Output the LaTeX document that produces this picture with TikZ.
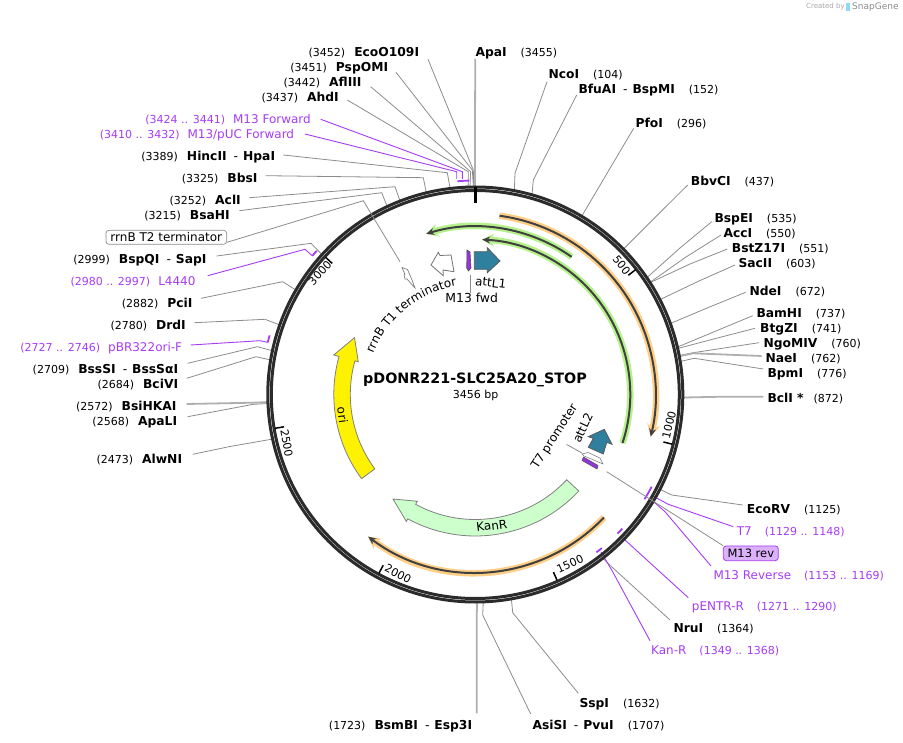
\documentclass[tikz,border=0pt]{standalone}
\usepackage{fontspec}
\setmainfont{DejaVu Sans}
\usetikzlibrary{arrows.meta,decorations.text}
\definecolor{primerpurple}{HTML}{A63CF5}
\definecolor{ringdark}{HTML}{2B2B2B}
\definecolor{leadergray}{HTML}{8C8C8C}
\definecolor{attteal}{HTML}{2F7F9E}
\definecolor{kanfill}{HTML}{CCFFCC}
\definecolor{orangeglow}{HTML}{FFCF87}
\definecolor{greenglow}{HTML}{B5F28C}
\newcommand{\sitel}[2]{{\fontsize{11}{13}\selectfont(#2)}\hspace{9pt}{\fontsize{12.3}{14}\selectfont\textbf{#1}}}
\newcommand{\siter}[2]{{\fontsize{12.3}{14}\selectfont\textbf{#1}}\hspace{14pt}{\fontsize{11}{13}\selectfont(#2)}}
\newcommand{\primerl}[2]{{\fontsize{11}{13}\selectfont(#2)}\hspace{8pt}{\fontsize{12}{14}\selectfont #1}}
\newcommand{\primerr}[2]{{\fontsize{12}{14}\selectfont #1}\hspace{13pt}{\fontsize{11}{13}\selectfont(#2)}}
\newcommand{\pairdash}{\hspace{7pt}\textmd{-}\hspace{5pt}}

\begin{document}
\begin{tikzpicture}[x=1pt, y=-1pt, >=Stealth,
  sitetext/.style={inner sep=0pt, text height=9.5pt, text depth=0.7pt, text=black},
  primertext/.style={sitetext, text=primerpurple},
  leader/.style={draw=leadergray, line width=0.8pt},
  leaderheavy/.style={draw=leadergray!70, line width=1.8pt},
  primerline/.style={draw=primerpurple, line width=0.9pt},
  primermark/.style={draw=primerpurple, line width=1.8pt},
  ringline/.style={draw=ringdark, line width=3pt},
  ticklabel/.style={inner sep=0pt, font=\fontsize{11}{13}\selectfont},
  featuretext/.style={inner sep=0pt, font=\fontsize{12}{14}\selectfont},
  genearc/.style={draw=black!50, line width=0.8pt},
  whitefeature/.style={draw=black!55, fill=white, line width=0.8pt},
  glowband/.style={line width=6.5pt},
  darkband/.style={draw=black!75, line width=2pt}]
  \useasboundingbox (0,0) rectangle (903,743);
  \coordinate (CENTER) at (475.3,394.5);

  % cut sites on the left
  \foreach \nm/\x/\y/\txt/\dx/\dy/\ex/\ey/\bp/\ls in {
    EcoO/419.3/51.7/{\sitel{EcoO109I}{3452}}/8.7/7.6/473.3/170/3452/leader,
    PspO/388.3/67/{\sitel{PspOMI}{3451}}/7.7/5.3/472.3/170/3451/leader,
    AflI/361.7/82/{\sitel{AflIII}{3442}}/9/4.7/470.7/171.7/3442/leader,
    AhdI/339/97/{\sitel{AhdI}{3437}}/8.3/3/468.3/171.7/3437/leader,
    Hinc/275.3/156/{\sitel{HincII\pairdash HpaI}{3389}}/8/-1/447.3/172.7/3389/leader,
    BbsI/257.7/178/{\sitel{BbsI}{3325}}/8/-2.3/423.3/177.7/3325/leader,
    AclI/241/200/{\sitel{AclI}{3252}}/8.3/-2.3/395/186.7/3252/leader,
    BsaH/230/215/{\sitel{BsaHI}{3215}}/9.3/-4.3/381.7/192.7/3215/leader,
    BspQ/206.7/259/{\sitel{BspQI\pairdash SapI}{2999}}/10/-3/311/243.3/2999/leader,
    PciI/192.7/303/{\sitel{PciI}{2882}}/8.3/-4.7/282.7/281.7/2882/leader,
    DrdI/186/325/{\sitel{DrdI}{2780}}/8.3/-2.3/265/319.3/2780/leader,
    BssS/178.3/369/{\sitel{BssSI\pairdash BssS\char"03B1I}{2709}}/9.4/-5.7/257.3/346.7/2709/leader,
    BciV/178.3/384/{\sitel{BciVI}{2684}}/8.4/-5.7/256/356.7/2684/leader,
    BsiH/176.7/406/{\sitel{BsiHKAI}{2572}}/10/-2/253.3/402.7/2572/leaderheavy,
    ApaL/177.3/421/{\sitel{ApaLI}{2568}}/10.4/-4.3/253.3/404.3/2568/leader,
    AlwN/182.3/459/{\sitel{AlwNI}{2473}}/10.4/-4.7/230/446.5/2473/leader,
    BsmB/472.3/725/{\sitel{BsmBI\pairdash Esp3I}{1723}}/4.4/-11.7/476.7/615/1723/leaderheavy}{
    \pgfmathsetmacro{\a}{\bp/9.6-90}
    \node[sitetext, anchor=east] (\nm) at (\x,\y) {\txt};
    \coordinate (\nm ring) at ([shift={(CENTER)}]\a:208);
    \draw[\ls] ([shift={(\dx,\dy)}]\nm.east) -- (\ex,\ey) -- (\nm ring);
  }

  % cut sites on the right
  \foreach \nm/\x/\y/\txt/\dx/\dy/\ex/\ey/\bp/\ls in {
    ApaI/475.3/52/{\siter{ApaI}{3455}}/0/7/475/120/3455/leaderheavy,
    NcoI/548.3/74/{\siter{NcoI}{104}}/-1.3/7.7/515/173.3/104/leader,
    BfuA/578.3/88.7/{\siter{BfuAI\pairdash BspMI}{152}}/-1.6/6.3/533.3/180/152/leader,
    PfoI/635.3/122.7/{\siter{PfoI}{296}}/-1.6/5.6/608/171.7/296/leader,
    BbvC/690.7/181/{\siter{BbvCI}{437}}/-3/4/656/216.5/437/leader,
    BspE/714.3/217.7/{\siter{BspEI}{535}}/-2.6/4/680/248/535/leader,
    AccI/723.3/233/{\siter{AccI}{550}}/-2.3/2/686/257/550/leader,
    BstZ/731.7/248/{\siter{BstZ17I}{551}}/-4.4/1/690/264/551/leader,
    SacI/738.3/263/{\siter{SacII}{603}}/-3.3/2/699/281/603/leader,
    NdeI/749.3/291/{\siter{NdeI}{672}}/-3.6/1.3/709.5/307/672/leader,
    BamH/756.3/313/{\siter{BamHI}{737}}/-3.6/2.7/716/331/737/leader,
    BtgZ/760/328/{\siter{BtgZI}{741}}/-5/0.3/717.5/338/741/leader,
    NgoM/763.3/343/{\siter{NgoMIV}{760}}/-4.3/-0.3/693.3/352.7/760/leader,
    NaeI/765.3/358/{\siter{NaeI}{762}}/-3.6/-2/693.3/353.3/762/leaderheavy,
    BpmI/767.3/373/{\siter{BpmI}{776}}/-4/-4/694.3/358.3/776/leader,
    BclI/767.3/398.5/{\textbf{\fontsize{12.3}{14}\selectfont BclI *}\hspace{10pt}{\fontsize{11}{13}\selectfont(872)}}/-4/-1.8/723/396.7/872/leaderheavy,
    EcoR/746.7/509/{\siter{EcoRV}{1125}}/-4/-4/671.7/495/1125/leader,
    NruI/673.3/628/{\siter{NruI}{1364}}/-3.3/-8/613.3/568.3/1364/leader,
    SspI/579.3/703/{\siter{SspI}{1632}}/-1/-9.7/512.7/612.7/1632/leader,
    AsiS/532.3/725/{\siter{AsiSI\pairdash PvuI}{1707}}/-1.6/-11/482.7/615/1707/leader}{
    \pgfmathsetmacro{\a}{\bp/9.6-90}
    \node[sitetext, anchor=west] (\nm) at (\x,\y) {\txt};
    \coordinate (\nm ring) at ([shift={(CENTER)}]\a:208);
    \draw[\ls] ([shift={(\dx,\dy)}]\nm.west) -- (\ex,\ey) -- (\nm ring);
  }

  % primers
  \foreach \nm/\x/\y/\txt/\dx/\dy/\ex/\ey/\fx/\fy in {
    MFwd/311/119/{\primerl{M13 Forward}{3424 .. 3441}}/9.7/0.3/462.3/171.7/462.3/179,
    MPuc/294.3/134/{\primerl{M13/pUC Forward}{3410 .. 3432}}/10.7/0/456.7/171.7/456.7/179,
    LFou/195.7/281/{\primerl{L4440}{2980 .. 2997}}/12/-5.3/305/249.3/312.5/256,
    PBRo/182.3/347/{\primerl{pBR322ori-F}{2727 .. 2746}}/8.4/-2/260/340.7/267.7/342.3}{
    \node[primertext, anchor=east] (\nm) at (\x,\y) {\txt};
    \coordinate (\nm end) at (\fx,\fy);
    \draw[primerline] ([shift={(\dx,\dy)}]\nm.east) -- (\ex,\ey) -- (\nm end);
  }
  \foreach \nm/\x/\y/\txt/\dx/\dy/\ex/\ey/\fx/\fy in {
    TSev/736.7/531/{\primerr{T7}{1129 .. 1148}}/-3.4/-4.3/668.3/504.3/652/495.5,
    MRev/713.3/575/{\primerr{M13 Reverse}{1153 .. 1169}}/-2.3/-9/665/511.7/650.5/499,
    PEnt/691.7/606/{\primerr{pENTR-R}{1271 .. 1290}}/-3.4/-8.3/625/540/621/536,
    KanP/651/650/{\primerr{Kan-R}{1349 .. 1368}}/-1/-9.3/611.7/570/601/552}{
    \node[primertext, anchor=west] (\nm) at (\x,\y) {\txt};
    \coordinate (\nm end) at (\fx,\fy);
    \draw[primerline] ([shift={(\dx,\dy)}]\nm.west) -- (\ex,\ey) -- (\nm end);
  }
  \foreach \bpa/\bpb/\r in {3410/3441/214, 2980/2997/214, 2727/2746/214, 1129/1169/199, 1271/1290/199, 1349/1368/199}{
    \pgfmathsetmacro{\aa}{\bpa/9.6-90}
    \pgfmathsetmacro{\ab}{\bpb/9.6-90}
    \draw[primermark, shift={(CENTER)}] (\aa:\r) arc[start angle=\aa, end angle=\ab, radius=\r];
  }

  % ring and ticks
  \draw[ringline] (CENTER) circle[radius=207.5];
  \draw[ringline] (CENTER) circle[radius=204];
  \draw[black, line width=3pt] (475.7,187) -- (475.7,203.5);
  \foreach \bp/\lab/\x/\y/\rot in {500/500/621.7/265/-52, 1000/1000/669/425/76, 1500/1500/570/564/24, 2000/2000/398/574/-28, 2500/2500/286.7/443.3/-80, 3000/3000/320/273/47.5}{
    \pgfmathsetmacro{\a}{\bp/9.6-90}
    \draw[black, line width=1.5pt, shift={(CENTER)}] (\a:203) -- (\a:194);
    \node[ticklabel, rotate=\rot] (tick\lab) at (\x,\y) {\lab};
  }

  % arcs inside the ring
  \begin{scope}[shift={(CENTER)}]
    \draw[glowband, orangeglow, -{Stealth[length=12pt, width=13pt]}] (-82.3:180.4) arc[start angle=-82.3, end angle=13.5, radius=180.4];
    \draw[darkband, -{Stealth[length=8pt, width=7pt]}] (-82.3:180.4) arc[start angle=-82.3, end angle=13.5, radius=180.4];
    \draw[glowband, orangeglow, -{Stealth[length=12pt, width=13pt]}] (43.7:178) arc[start angle=43.7, end angle=127, radius=178];
    \draw[darkband, -{Stealth[length=8pt, width=7pt]}] (43.7:178) arc[start angle=43.7, end angle=127, radius=178];
    \draw[glowband, greenglow, -{Stealth[length=12pt, width=13pt]}] (-55:168) arc[start angle=-55, end angle=-107, radius=168];
    \draw[darkband, -{Stealth[length=8pt, width=7pt]}] (-55:168) arc[start angle=-55, end angle=-107, radius=168];
    \draw[glowband, greenglow, -{Stealth[length=12pt, width=13pt]}] (18.3:155) arc[start angle=18.3, end angle=-87.5, radius=155];
    \draw[darkband, -{Stealth[length=8pt, width=7pt]}] (18.3:155) arc[start angle=18.3, end angle=-87.5, radius=155];
    \filldraw[genearc, fill=yellow] (143.5:125) arc[start angle=143.5, end angle=195.6, radius=125] -- (195.6:121.5) -- (205.2:133.5) -- (195.6:147) -- (195.6:141.5) arc[start angle=195.6, end angle=143.5, radius=141.5] -- cycle;
    \filldraw[genearc, fill=kanfill] (43:125) arc[start angle=43, end angle=118.5, radius=125] -- (118.5:121.5) -- (128.2:133) -- (118.5:144.5) -- (118.5:141.5) arc[start angle=118.5, end angle=43, radius=141.5] -- cycle;
    \path[decorate, decoration={text along path, text align=center, text={|\fontsize{12}{14}\selectfont|rrnB T1 terminator}}] (201.6:110) arc[start angle=201.6, end angle=260.5, radius=110];
  \end{scope}
  \node[featuretext, rotate=-82] (ORI) at (342.7,415) {ori};
  \node[featuretext, rotate=7] (KANR) at (491.7,525.7) {KanR};

  % small features
  \filldraw[whitefeature] (431,265) -- (438.3,252.3) -- (440,255.5) -- (451,255) -- (454,271.7) -- (443,270) -- (443.3,275.7) -- cycle;
  \filldraw[whitefeature, line width=0.6pt] (402,267.5) -- (407.5,269.5) -- (412,280) -- (415,288) -- (407,279) -- (405,279) -- (404,275) -- (405,274.5) -- cycle;
  \filldraw[draw=black!65, fill=attteal, line width=0.8pt] (474.3,251.7) -- (487.3,251.7) -- (487.3,247.7) -- (500,261) -- (487.3,272.7) -- (487.3,269.3) -- (474.3,269.3) -- cycle;
  \filldraw[draw=black!65, fill=attteal, line width=0.8pt] (588.3,436.7) -- (604.3,429.3) -- (612,444.3) -- (606.7,442.3) -- (603.3,454) -- (588.3,447.3) -- (593.3,438.3) -- cycle;
  \filldraw[draw=black!70, fill=primerpurple!90!black, line width=0.6pt] (467,250) -- (470,252) -- (471,268) -- (468.5,271) -- (466.7,268) -- cycle;
  \filldraw[whitefeature, line width=0.5pt] (582,454) -- (588,452.5) -- (600,458) -- (603,464) -- (596,461) -- (584,456) -- cycle;
  \filldraw[draw=black!70, fill=primerpurple!90!black, line width=0.5pt] (583.5,457) -- (598,465.5) -- (597,469) -- (582,460.5) -- cycle;

  % feature labels
  \node[featuretext, rotate=-7] (ATTLONE) at (490.7,282.7) {attL1};
  \node[featuretext, font=\fontsize{12.4}{14}\selectfont] (MFWD) at (471.7,298) {M13 fwd};
  \node[featuretext, rotate=65] (ATTLTWO) at (582.7,428) {attL2};
  \node[featuretext, rotate=57] (TSEVEN) at (555,437) {T7 promoter};
  \draw[leader] ([xshift=-1.7pt]MFWD.north) -- (470,275);
  \draw[leader] ([shift={(6.7,4.3)}]TSEVEN.south) -- (582,453);

  % boxed labels
  \node[draw=black!45, fill=white, rounded corners=3pt, line width=0.7pt, inner sep=1.5pt, minimum height=14pt, minimum width=120.7pt, font=\fontsize{12}{14}\selectfont] (RRNB) at (166.3,237.3) {rrnB T2 terminator};
  \node[draw=primerpurple, fill=primerpurple!40, rounded corners=3pt, line width=0.8pt, inner sep=1pt, minimum height=14.7pt, minimum width=55pt, font=\fontsize{11.5}{14}\selectfont] (MREV) at (750.8,553.3) {M13 rev};
  \coordinate (rrnbelbow) at (363.3,200.7);
  \coordinate (rrnbend) at (400,261.7);
  \draw[leader] ([yshift=-5pt]RRNB.east) -- (rrnbelbow) -- (rrnbend);
  \coordinate (mrevelbow) at (656,503);
  \coordinate (mrevend) at (606.7,471.7);
  \draw[leader] (MREV.north west) -- (mrevelbow) -- (mrevend);

  % plasmid name
  \node[inner sep=0pt, font=\fontsize{14.3}{16}\selectfont\bfseries] (TITLE) at (475,380) {pDONR221-SLC25A20\_STOP};
  \node[inner sep=0pt, font=\fontsize{11}{13}\selectfont] (LENGTH) at (475.7,395) {3456 bp};

  % logo line
  \node[inner sep=0pt, anchor=west, text=black!35, font=\fontsize{7}{8}\selectfont] (CREATED) at (806,7) {Created by};
  \fill[cyan!45] (846,3) rectangle (850,11);
  \node[inner sep=0pt, anchor=west, text=black!45, font=\fontsize{9}{10}\selectfont] (SNAPGENE) at (852,7) {SnapGene};
\end{tikzpicture}
\end{document}
